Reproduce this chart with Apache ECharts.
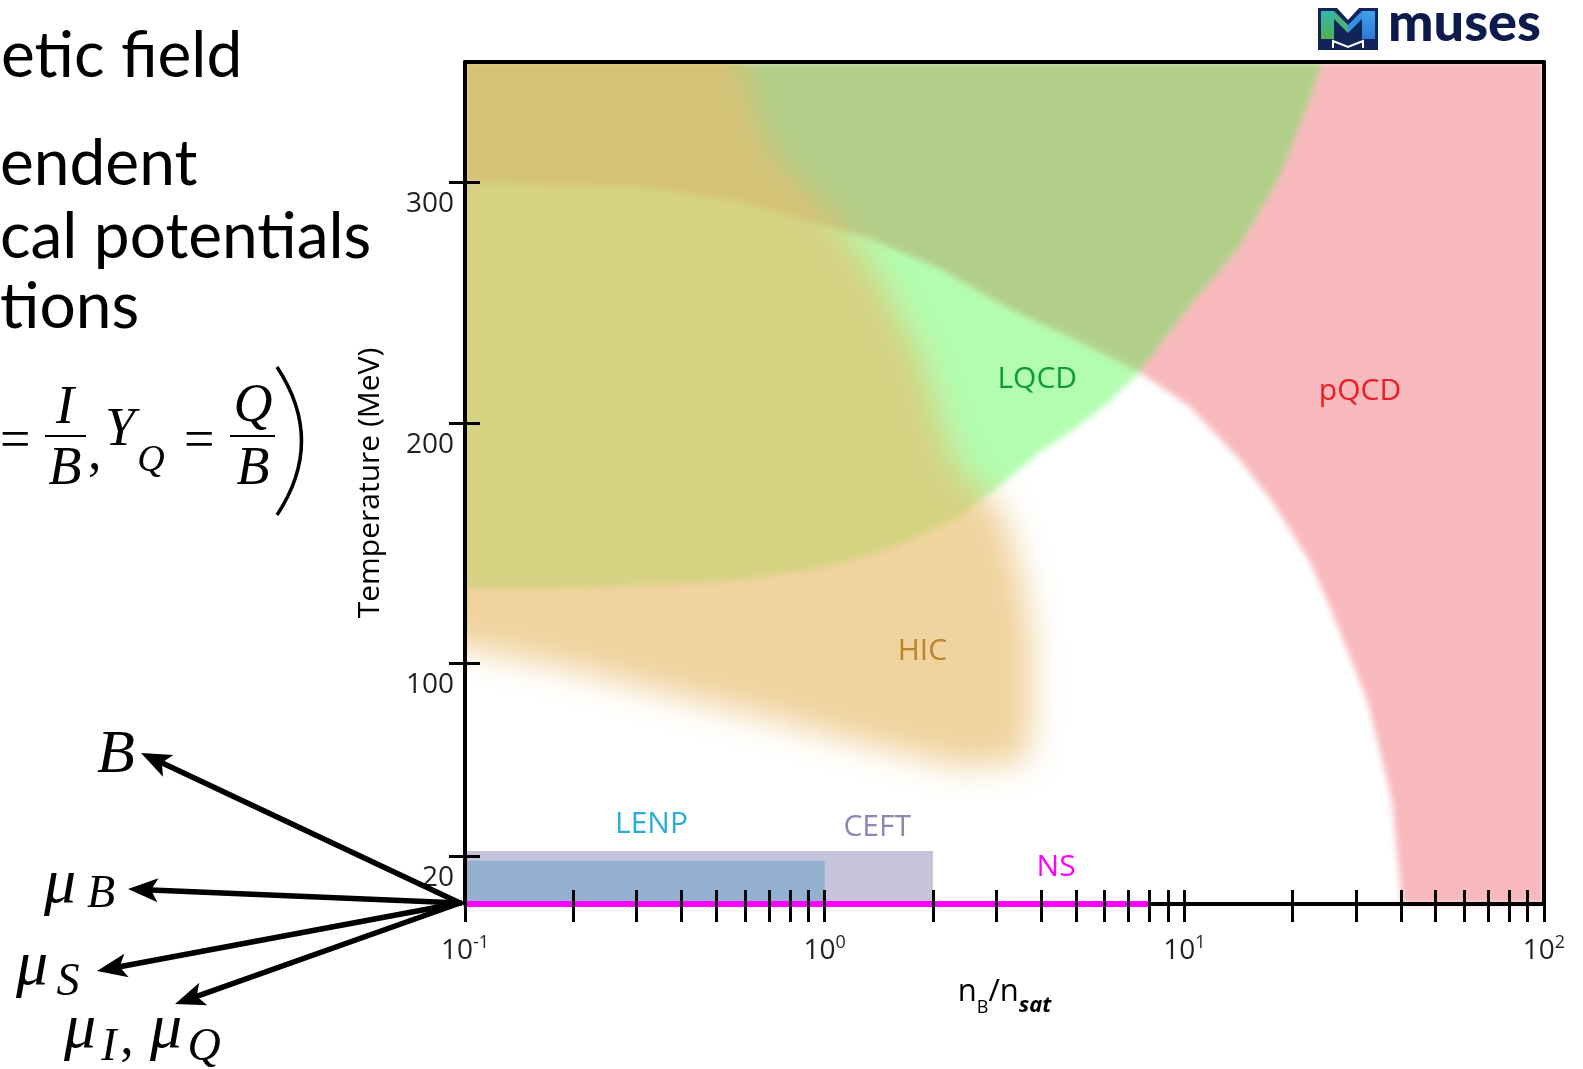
<!DOCTYPE html>
<html>
<head>
<meta charset="utf-8">
<title>QCD phase diagram coverage</title>
<script src="https://cdn.jsdelivr.net/npm/echarts@6.0.0/dist/echarts.min.js"></script>
<style>
  html, body { margin: 0; padding: 0; background: #ffffff; }
  #stage { position: relative; width: 1583px; height: 1069px; overflow: hidden; background: #fff; }
  .layer { position: absolute; left: 0; top: 0; width: 1583px; height: 1069px; }
  #phaseLayer { filter: blur(3px); }
  #hicLayer { filter: blur(16px); }
</style>
</head>
<body>
<div id="stage">
  <div id="phaseLayer" class="layer"></div>
  <div id="hicLayer" class="layer"></div>
  <div id="mainLayer" class="layer"></div>
</div>
<script>
// ---------- axes ----------
const xMin = 0.1, xMax = 100;          // n_B / n_sat (log)
const tMin = 0, tMax = 350;            // temperature, MeV
const xTickValues = [0.1, 0.2, 0.3, 0.4, 0.5, 0.6, 0.7, 0.8, 0.9, 1,
                     2, 3, 4, 5, 6, 7, 8, 9, 10,
                     20, 30, 40, 50, 60, 70, 80, 90, 100];
const xLabelValues = [0.1, 1, 10, 100];
const yTickValues = [20, 100, 200, 300];
const yLabelValues = [0, 20, 100, 200, 300];

// ---------- region boundaries (n_B/n_sat, T in MeV) ----------
// outer arc: upper edge of the low-density lens, then lower edge of pQCD
const arcX = [0.1, 0.17, 0.31, 0.58, 0.89, 1.36, 2.09, 3.2, 4.9, 7.5, 10.3, 14.2, 17.6, 22.2, 25, 32.2, 37.8, 40.3];
const arcT = [300, 299, 298, 292, 284, 276, 264, 248, 235, 221, 207, 185, 167, 143, 126, 85, 43, 0];
// lower edge of the LQCD lens, from the crossing point back to the T axis
const lensLowX = [7.5, 6.1, 4.9, 3.96, 3.2, 2.37, 1.55, 1.01, 0.53, 0.18, 0.1];
const lensLowT = [221, 208, 197, 188, 176, 161, 148, 140, 134, 131, 131];
// LQCD / pQCD border in the hot region, top down to the crossing point
const lqcdEdgeX = [24.2, 21.8, 18.4, 14.2, 10.3, 7.5];
const lqcdEdgeT = [350, 330, 302, 273, 248, 221];
// heavy-ion collision coverage
const hicX = [0.1, 0.53, 0.70, 0.97, 1.33, 1.87, 2.27, 3.12, 3.55, 3.78, 3.78, 3.64, 2.37, 1.25, 0.66, 0.35, 0.18, 0.1];
const hicT = [350, 350, 314, 293, 268, 226, 185, 163, 135, 107, 79, 59, 57, 67, 78, 88, 99, 110];
// nuclear-physics bands near T = 0
const lenpX = [0.1, 1.0], lenpT = [0, 18];
const ceftX = [0.1, 2.0], ceftT = [0, 22];
const nsX = [0.1, 8], nsT = [0, 0];

// ---------- region labels ----------
const regionNames = ['LQCD', 'pQCD', 'HIC', 'LENP', 'CEFT', 'NS'];
const labelX = [3.9, 30.8, 1.87, 0.33, 1.4, 4.4];
const labelT = [218, 213, 105, 33, 32, 15];
const labelColors = ['#0C9A3C', '#EC1C24', '#B8862B', '#29ABE2', '#8C88B5', '#FF00FF'];

const fills = {
  lqcdOuter: '#B2CF8A',
  lqcdInner: '#B3FDB0',
  pqcd: '#F8B9BD',
  hic: 'rgba(232,187,106,0.65)',
  lenp: '#94B0CF',
  ceft: '#C5C4DA'
};

const grid = { left: 465, right: 39, top: 62, bottom: 165 };
const ink = '#231F20';

// ---------- polygons built from the boundary lists ----------
const iCross = 9;
function pairs(xs, ts) { return xs.map(function (x, i) { return [x, ts[i]]; }); }
const arcPts = pairs(arcX, arcT);
const lensPts = pairs(lensLowX, lensLowT);
const edgePts = pairs(lqcdEdgeX, lqcdEdgeT);

const lqcdOuter = [[xMin, tMax]].concat(edgePts, arcPts.slice(0, iCross).reverse());
const lqcdInner = arcPts.slice(0, iCross + 1).concat(lensPts.slice(1));
const pqcd = [edgePts[0], [xMax, tMax], [xMax, tMin]]
  .concat(arcPts.slice(iCross).reverse(), edgePts.slice(1, -1).reverse());
const hic = pairs(hicX, hicT);

function areaSeries(points, fill, bleed, z) {
  return {
    type: 'custom',
    coordinateSystem: 'cartesian2d',
    silent: true,
    z: z || 2,
    data: [points[0]],
    renderItem: function (params, api) {
      const shape = points.map(function (p) {
        const c = api.coord(p);
        if (bleed) {               // let edges lying on the frame run past it
          if (p[0] <= xMin) c[0] -= bleed;
          if (p[0] >= xMax) c[0] += bleed;
          if (p[1] >= tMax) c[1] -= bleed;
          if (p[1] <= tMin) c[1] += bleed;
        }
        return c;
      });
      return { type: 'polygon', shape: { points: shape }, style: { fill: fill } };
    }
  };
}

function boxSeries(xs, ts, fill, z) {
  return {
    type: 'custom', coordinateSystem: 'cartesian2d', silent: true, z: z,
    data: [[xs[0], ts[0]]],
    renderItem: function (params, api) {
      const a = api.coord([xs[0], ts[1]]);
      const b = api.coord([xs[1], ts[0]]);
      return { type: 'rect', shape: { x: a[0], y: a[1], width: b[0] - a[0], height: b[1] - a[1] },
               style: { fill: fill } };
    }
  };
}

function hiddenAxisOption(series) {
  return {
    animation: false,
    grid: Object.assign({ outerBoundsMode: 'none' }, grid),
    xAxis: { type: 'log', logBase: 10, min: xMin, max: xMax, show: false },
    yAxis: { type: 'value', min: tMin, max: tMax, show: false },
    series: series
  };
}

// ---------- blurred phase layers ----------
const phaseChart = echarts.init(document.getElementById('phaseLayer'));
phaseChart.setOption(hiddenAxisOption([
  areaSeries(lqcdOuter, fills.lqcdOuter, 0, 2),
  areaSeries(lqcdInner, fills.lqcdInner, 0, 2),
  areaSeries(pqcd, fills.pqcd, 0, 2)
]));

const hicChart = echarts.init(document.getElementById('hicLayer'));
hicChart.setOption(hiddenAxisOption([
  areaSeries(hic, fills.hic, 45, 2)
]));

['phaseLayer', 'hicLayer'].forEach(function (id) {
  document.getElementById(id).style.clipPath =
    'inset(' + grid.top + 'px ' + grid.right + 'px ' + (grid.bottom - 6) + 'px ' + grid.left + 'px)';
});

// ---------- decorations outside the plot ----------
function arrow(x0, y0, x1, y1) {
  const dx = x1 - x0, dy = y1 - y0, L = Math.hypot(dx, dy);
  const ux = dx / L, uy = dy / L, head = 30, half = 12, notch = 7;
  const bx = x1 - ux * head, by = y1 - uy * head;
  return [
    { type: 'line', z: 20, shape: { x1: x0, y1: y0, x2: bx + ux * notch, y2: by + uy * notch },
      style: { stroke: '#000', lineWidth: 5.5, lineCap: 'round' } },
    { type: 'polygon', z: 20,
      shape: { points: [[x1, y1], [bx - uy * half, by + ux * half], [bx + ux * notch, by + uy * notch], [bx + uy * half, by - ux * half]] },
      style: { fill: '#000' } }
  ];
}

function txt(text, x, y, font, fill, align, extra) {
  return Object.assign({
    type: 'text', x: x, y: y, z: 21,
    style: { text: text, font: font, fill: fill || '#000',
             align: align || 'left', textAlign: align || 'left',
             verticalAlign: 'middle', textVerticalAlign: 'middle' }
  }, extra || {});
}

const slideFont = '64px "Lato"';
const mathFont = 'italic 54px "Liberation Serif"';
const mathUp = '54px "Liberation Serif"';
const greekFont = 'italic 64px "Liberation Serif"';
const subFont = 'italic 46px "Liberation Serif"';

const graphics = [
  // slide text
  txt('etic field', 1, 56, slideFont),
  txt('endent', 0, 164, slideFont),
  txt('cal potentials', 0, 237, slideFont),
  txt('tions', 0, 307, slideFont),
  // charge fractions
  txt('=', 0, 443, mathUp),
  txt('I', 65, 409, mathFont, '#000', 'center'),
  { type: 'line', shape: { x1: 45, y1: 436, x2: 86, y2: 436 }, style: { stroke: '#000', lineWidth: 2 } },
  txt('B', 65, 470, mathFont, '#000', 'center'),
  txt(',', 88, 455, mathUp),
  txt('Y', 120, 431, mathFont, '#000', 'center'),
  txt('Q', 151, 461, 'italic 38px "Liberation Serif"', '#000', 'center'),
  txt('=', 184, 443, mathUp),
  txt('Q', 253, 407, mathFont, '#000', 'center'),
  { type: 'line', shape: { x1: 230, y1: 436, x2: 275, y2: 436 }, style: { stroke: '#000', lineWidth: 2 } },
  txt('B', 253, 470, mathFont, '#000', 'center'),
  { type: 'bezierCurve', shape: { x1: 277, y1: 367, x2: 277, y2: 515, cpx1: 326, cpy1: 441 },
    style: { stroke: '#000', lineWidth: 3.5, fill: null } },
  // charge axes
  txt('B', 116, 756, 'italic 62px "Liberation Serif"', '#000', 'center'),
  txt('\u03bc', 60, 885, greekFont, '#000', 'center'),
  txt('B', 101, 895, subFont, '#000', 'center'),
  txt('\u03bc', 32, 967, greekFont, '#000', 'center'),
  txt('S', 68, 983, subFont, '#000', 'center'),
  txt('\u03bc', 80, 1030, greekFont, '#000', 'center'),
  txt('I', 109, 1048, subFont, '#000', 'center'),
  txt(',', 127, 1040, mathUp, '#000', 'center'),
  txt('\u03bc', 166, 1030, greekFont, '#000', 'center'),
  txt('Q', 204, 1048, subFont, '#000', 'center')
];
Array.prototype.push.apply(graphics, arrow(460, 903, 141, 753));
Array.prototype.push.apply(graphics, arrow(460, 903, 128, 889));
Array.prototype.push.apply(graphics, arrow(460, 903, 97, 971));
Array.prototype.push.apply(graphics, arrow(460, 903, 175, 1004));

// logo
graphics.push(
  { type: 'polygon', shape: { points: [[1318, 8], [1337, 8], [1348, 20], [1359, 8], [1378, 8], [1378, 50], [1318, 50]] },
    style: { fill: '#10245A' } },
  { type: 'polygon', shape: { points: [[1321, 11], [1334, 11], [1334, 39], [1321, 39]] },
    style: { fill: new echarts.graphic.LinearGradient(0, 0, 0, 1, [{ offset: 0, color: '#33B6AE' }, { offset: 1, color: '#55B04F' }]) } },
  { type: 'polygon', shape: { points: [[1362, 11], [1375, 11], [1375, 39], [1362, 39]] },
    style: { fill: new echarts.graphic.LinearGradient(0, 0, 0, 1, [{ offset: 0, color: '#3BA3EA' }, { offset: 1, color: '#2F78D6' }]) } },
  { type: 'polygon', shape: { points: [[1334, 11], [1348, 25], [1348, 33], [1334, 19]] },
    style: { fill: '#48B07A' } },
  { type: 'polygon', shape: { points: [[1362, 11], [1348, 25], [1348, 33], [1362, 19]] },
    style: { fill: '#3690E2' } },
  { type: 'polyline', shape: { points: [[1333, 48], [1333, 41], [1348, 47], [1363, 41], [1363, 48]] },
    style: { stroke: '#ffffff', lineWidth: 2, fill: null } },
  txt('muses', 1388, 24, '900 54px "Lato"', '#0D1B4C')
);

// ---------- main chart: axes, bands, labels ----------
const tickLine = { color: '#000', width: 3 };
const commonX = { type: 'log', logBase: 10, min: xMin, max: xMax, splitLine: { show: false },
                  minorTick: { show: false }, minorSplitLine: { show: false } };
const commonY = { type: 'value', min: tMin, max: tMax, splitLine: { show: false },
                  minorTick: { show: false }, minorSplitLine: { show: false } };

const mainChart = echarts.init(document.getElementById('mainLayer'));
mainChart.setOption({
  animation: false,
  grid: Object.assign({ outerBoundsMode: 'none' }, grid),
  xAxis: [
    Object.assign({}, commonX, {
      position: 'bottom', z: 2,
      axisLine: { show: true, onZero: false, lineStyle: { color: '#000', width: 4 } },
      axisTick: { show: false },
      axisLabel: {
        customValues: xLabelValues, margin: 30,
        formatter: function (v) {
          const e = Math.round(Math.log10(v));
          return '{b|10}{s|' + (e < 0 ? '-' : '') + Math.abs(e) + '}';
        },
        rich: {
          b: { fontSize: 28, fontFamily: 'Open Sans', color: ink, lineHeight: 34 },
          s: { fontSize: 18, fontFamily: 'Open Sans', color: ink, lineHeight: 22, verticalAlign: 'top' }
        }
      },
      name: '{n|n}{sb|B}{n|/n}{ss|sat}',
      nameLocation: 'middle', nameGap: 63,
      nameTextStyle: {
        rich: {
          n: { fontSize: 31, fontFamily: 'Open Sans', color: '#000', lineHeight: 50 },
          sb: { fontSize: 18, fontFamily: 'Open Sans', color: '#000', lineHeight: 14, verticalAlign: 'bottom' },
          ss: { fontSize: 22, fontFamily: 'Open Sans', fontWeight: 'bold', fontStyle: 'italic', color: '#000',
                lineHeight: 14, verticalAlign: 'bottom' }
        }
      }
    }),
    Object.assign({}, commonX, {
      position: 'bottom', z: 4, axisLine: { show: false, onZero: false }, axisLabel: { show: false },
      axisTick: { show: true, inside: true, length: 14, customValues: xTickValues, lineStyle: tickLine }
    }),
    Object.assign({}, commonX, {
      position: 'bottom', z: 4, axisLine: { show: false, onZero: false }, axisLabel: { show: false },
      axisTick: { show: true, inside: false, length: 18, customValues: xTickValues, lineStyle: tickLine }
    }),
    Object.assign({}, commonX, {
      position: 'top', z: 5, axisLine: { show: true, onZero: false, lineStyle: { color: '#000', width: 4 } },
      axisTick: { show: false }, axisLabel: { show: false }
    })
  ],
  yAxis: [
    Object.assign({}, commonY, {
      position: 'left', z: 2,
      axisLine: { show: true, onZero: false, lineStyle: { color: '#000', width: 4 } },
      axisTick: { show: false },
      axisLabel: {
        customValues: yLabelValues, margin: 11,
        formatter: function (v) { return v === 0 ? '{z|0}' : '{t|' + v + '}'; },
        rich: {
          t: { fontSize: 28, fontFamily: 'Open Sans', color: ink, padding: [44, 0, 0, 0] },
          z: { fontSize: 28, fontFamily: 'Open Sans', color: ink }
        }
      },
      name: 'Temperature (MeV)', nameLocation: 'middle', nameGap: 80,
      nameTextStyle: { fontSize: 30, fontFamily: 'Open Sans', color: '#000' }
    }),
    Object.assign({}, commonY, {
      position: 'left', z: 4, axisLine: { show: false, onZero: false }, axisLabel: { show: false },
      axisTick: { show: true, inside: true, length: 15, customValues: yTickValues, lineStyle: tickLine }
    }),
    Object.assign({}, commonY, {
      position: 'left', z: 4, axisLine: { show: false, onZero: false }, axisLabel: { show: false },
      axisTick: { show: true, inside: false, length: 16, customValues: yTickValues, lineStyle: tickLine }
    }),
    Object.assign({}, commonY, {
      position: 'right', z: 5, axisLine: { show: true, onZero: false, lineStyle: { color: '#000', width: 4 } },
      axisTick: { show: false }, axisLabel: { show: false }
    })
  ],
  series: [
    boxSeries(ceftX, ceftT, fills.ceft, 1),
    boxSeries(lenpX, lenpT, fills.lenp, 1),
    {
      type: 'line', name: 'NS', z: 3, clip: false, silent: true,
      data: pairs(nsX, nsT), symbol: 'none',
      lineStyle: { color: '#FF00FF', width: 6 }
    },
    {
      type: 'custom', coordinateSystem: 'cartesian2d', silent: true, z: 6,
      data: pairs(labelX, labelT),
      renderItem: function (params, api) {
        const i = params.dataIndex;
        const c = api.coord([api.value(0), api.value(1)]);
        return {
          type: 'text', x: c[0], y: c[1],
          style: { text: regionNames[i], fill: labelColors[i], font: '30px "Open Sans"',
                   align: 'center', textAlign: 'center', verticalAlign: 'middle', textVerticalAlign: 'middle' }
        };
      }
    }
  ],
  graphic: graphics
});
</script>
</body>
</html>
